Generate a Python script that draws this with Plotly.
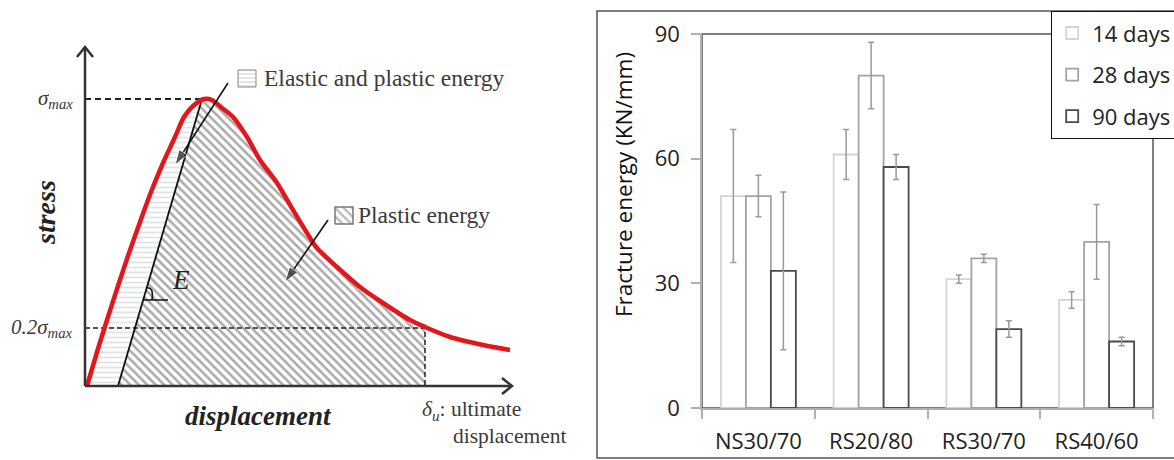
import plotly.graph_objects as go

# ---------------- Right panel data (bar chart) ----------------
categories = ["NS30/70", "RS20/80", "RS30/70", "RS40/60"]
series_names = ["14 days", "28 days", "90 days"]
vals_14 = [51, 61, 31, 26]
err_14 = [16, 6, 1, 2]
vals_28 = [51, 80, 36, 40]
err_28 = [5, 8, 1, 9]
vals_90 = [33, 58, 19, 16]
err_90 = [19, 3, 2, 1]
y_ticks = [0, 30, 60, 90]
y_title = "Fracture energy (KN/mm)"

# ---------------- Left panel (schematic stress-displacement) ----------------
# schematic units: displacement (x) and stress (y)
curve_disp = [2, 12, 22, 33, 44, 55, 66, 78, 90, 99, 108, 119, 127, 137, 148, 162, 175,
              192, 208, 222, 232, 252, 275, 298, 325, 340, 365, 398, 425]
curve_stress = [0, 34, 66, 100, 133, 164, 194, 223, 249, 269, 280, 287, 286, 278, 269, 249, 226,
                203, 176, 153, 138, 119, 99, 83, 66, 59, 49, 41, 36]
peak_index = 11
sigma_max = 287
sigma_02 = 58
elastic_disp = [33, 117]
elastic_stress = [0, 287]
ultimate_disp = 340
axis_x_end = 427
axis_y_end = 339
pointer1_disp, pointer1_stress = [143, 90], [303, 221]   # tail -> head
pointer2_disp, pointer2_stress = [243, 200], [166, 104]
icon1_x = [153, 171, 171, 153, 153]
icon1_y = [299, 299, 316, 316, 299]
icon2_x = [250, 268, 268, 250, 250]
icon2_y = [162, 162, 179, 179, 162]

fig = go.Figure()

# ---------- schematic ----------
rise_x = curve_disp[:peak_index + 1]
rise_y = curve_stress[:peak_index + 1]

# plastic region (hatched)
k_ult = curve_disp.index(ultimate_disp)
px = [elastic_disp[0], elastic_disp[1]] + curve_disp[peak_index:k_ult + 1] + [ultimate_disp, elastic_disp[0]]
py = [elastic_stress[0], elastic_stress[1]] + curve_stress[peak_index:k_ult + 1] + [0, 0]
fig.add_trace(go.Scatter(x=px, y=py, xaxis="x2", yaxis="y2", mode="lines", fill="toself",
                         line=dict(width=0), fillcolor="white",
                         fillpattern=dict(shape="\\", fgcolor="#555555", bgcolor="white",
                                          size=6, solidity=0.42),
                         hoverinfo="skip", showlegend=False))
# elastic region (light pattern)
ex = rise_x + [elastic_disp[1], elastic_disp[0], rise_x[0]]
ey = rise_y + [elastic_stress[1], elastic_stress[0], rise_y[0]]
fig.add_trace(go.Scatter(x=ex, y=ey, xaxis="x2", yaxis="y2", mode="lines", fill="toself",
                         line=dict(width=0), fillcolor="white",
                         fillpattern=dict(shape="-", fgcolor="#c2c6d2", bgcolor="white",
                                          size=5, solidity=0.35),
                         hoverinfo="skip", showlegend=False))

# dashed guide lines
fig.add_trace(go.Scatter(x=[0, curve_disp[peak_index]], y=[sigma_max, sigma_max], xaxis="x2", yaxis="y2",
                         mode="lines", line=dict(color="#222", width=2, dash="6px,4px"),
                         hoverinfo="skip", showlegend=False))
fig.add_trace(go.Scatter(x=[0, ultimate_disp, ultimate_disp], y=[sigma_02, sigma_02, 0], xaxis="x2", yaxis="y2",
                         mode="lines", line=dict(color="#222", width=1.5, dash="5px,3px"),
                         hoverinfo="skip", showlegend=False))
# elastic line
fig.add_trace(go.Scatter(x=elastic_disp, y=elastic_stress, xaxis="x2", yaxis="y2",
                         mode="lines", line=dict(color="#111", width=1.8),
                         hoverinfo="skip", showlegend=False))
# red curve
fig.add_trace(go.Scatter(x=curve_disp, y=curve_stress, xaxis="x2", yaxis="y2",
                         mode="lines", line=dict(color="#e3161b", width=4.5, shape="spline", smoothing=0.8),
                         hoverinfo="skip", showlegend=False))

# label icons
fig.add_trace(go.Scatter(x=icon1_x, y=icon1_y, xaxis="x2", yaxis="y2", mode="lines", fill="toself",
                         line=dict(color="#888", width=1), fillcolor="white",
                         fillpattern=dict(shape="-", fgcolor="#aaaaaa", bgcolor="white", size=4, solidity=0.3),
                         hoverinfo="skip", showlegend=False))
fig.add_trace(go.Scatter(x=icon2_x, y=icon2_y, xaxis="x2", yaxis="y2", mode="lines", fill="toself",
                         line=dict(color="#777", width=1.5), fillcolor="white",
                         fillpattern=dict(shape="\\", fgcolor="#777", bgcolor="white", size=6, solidity=0.4),
                         hoverinfo="skip", showlegend=False))

# axes with open arrow heads
hw, hl = 8, 10
ax_x = [0, 0, None, -hw, 0, hw, None, 0, axis_x_end, None, axis_x_end - hl, axis_x_end, axis_x_end - hl]
ax_y = [0, axis_y_end, None, axis_y_end - hl, axis_y_end, axis_y_end - hl, None, 0, 0, None, hw, 0, -hw]
fig.add_trace(go.Scatter(x=ax_x, y=ax_y, xaxis="x2", yaxis="y2", mode="lines",
                         line=dict(color="#333", width=2.5), hoverinfo="skip", showlegend=False))
# pointer arrows
for pdx, pdy in [(pointer1_disp, pointer1_stress), (pointer2_disp, pointer2_stress)]:
    fig.add_trace(go.Scatter(x=pdx, y=pdy, xaxis="x2", yaxis="y2", mode="lines+markers",
                             line=dict(color="#111", width=1.6),
                             marker=dict(symbol="arrow", size=[0, 16], color="#111", angleref="previous"),
                             hoverinfo="skip", showlegend=False))

# angle mark for E
fig.add_shape(type="line", xref="x2", yref="y2", x0=58, y0=86, x1=83, y1=86, line=dict(color="#111", width=1.5))
fig.add_shape(type="path", xref="x2", yref="y2", path="M 67,86 Q 69,100 61,98", line=dict(color="#111", width=1.6))

serif = "Liberation Serif"
txt_col = "#3a3a3a"
fig.add_annotation(x=177, y=308, xref="x2", yref="y2", text="Elastic and plastic energy", showarrow=False,
                   xanchor="left", font=dict(family=serif, size=23.5, color=txt_col))
fig.add_annotation(x=271, y=171, xref="x2", yref="y2", text="Plastic energy", showarrow=False,
                   xanchor="left", font=dict(family=serif, size=23.5, color=txt_col))
fig.add_annotation(x=-10, y=sigma_max, xref="x2", yref="y2", text="<i>σ<sub>max</sub></i>", showarrow=False,
                   xanchor="right", font=dict(family=serif, size=21, color=txt_col))
fig.add_annotation(x=-10, y=sigma_02, xref="x2", yref="y2", text="<i>0.2σ<sub>max</sub></i>", showarrow=False,
                   xanchor="right", font=dict(family=serif, size=21, color=txt_col))
fig.add_annotation(x=96, y=106, xref="x2", yref="y2", text="<i>E</i>", showarrow=False,
                   font=dict(family=serif, size=27, color="#222"))
fig.add_annotation(x=-40, y=173, xref="x2", yref="y2", text="<b><i>stress</i></b>", showarrow=False,
                   textangle=-90, font=dict(family=serif, size=28, color="#222"))
fig.add_annotation(x=173, y=-30, xref="x2", yref="y2", text="<b><i>displacement</i></b>", showarrow=False,
                   font=dict(family=serif, size=27, color="#222"))
fig.add_annotation(x=335, y=-24, xref="x2", yref="y2", text="<i>δ<sub>u</sub></i>: ultimate", showarrow=False,
                   xanchor="left", font=dict(family=serif, size=21.5, color=txt_col))
fig.add_annotation(x=366, y=-50, xref="x2", yref="y2", text="displacement", showarrow=False,
                   xanchor="left", font=dict(family=serif, size=21.5, color=txt_col))

# ---------- bar chart ----------
bar_specs = [
    (series_names[0], vals_14, err_14, "#d4d4d4"),
    (series_names[1], vals_28, err_28, "#a3a3a3"),
    (series_names[2], vals_90, err_90, "#4a4a4a"),
]
for name, vals, errs, lc in bar_specs:
    fig.add_trace(go.Bar(x=categories, y=vals, name=name, legendgroup=name,
                         marker=dict(color="white", line=dict(color=lc, width=1.8)),
                         error_y=dict(type="data", array=errs, color="#9a9a9a", thickness=1.5, width=3),
                         xaxis="x", yaxis="y"))

sans = "Open Sans"
fs = 22
x0p, x1p = 702 / 1174, 1153 / 1174
y0p, y1p = (460 - 408) / 460, (460 - 34) / 460
fig.update_layout(
    width=1174, height=460,
    margin=dict(l=0, r=0, t=0, b=0, autoexpand=False),
    paper_bgcolor="white", plot_bgcolor="white",
    barmode="group", bargap=0.335, bargroupgap=0,
    font=dict(family=sans, size=fs, color="#222"),
    xaxis=dict(domain=[x0p, x1p], anchor="y", type="category", tickson="boundaries",
               ticks="outside", ticklen=9, tickcolor="#b0b0b0", tickwidth=1.5,
               showline=True, linecolor="#b0b0b0", linewidth=1.5, showgrid=False,
               ticklabelstandoff=13,
               tickfont=dict(family=sans, size=fs, color="#222")),
    yaxis=dict(domain=[y0p, y1p], anchor="x", range=[0, 90], tickvals=y_ticks,
               ticks="outside", ticklen=9, tickcolor="#b0b0b0", tickwidth=1.5,
               showline=True, linecolor="#b0b0b0", linewidth=1.5, showgrid=False, zeroline=False,
               tickfont=dict(family=sans, size=fs, color="#222"), ticklabelstandoff=7),
    xaxis2=dict(domain=[0, 590 / 1174], anchor="y2", range=[-85, 505], visible=False),
    yaxis2=dict(domain=[0, 1], anchor="x2", range=[-74, 386], visible=False),
    legend=dict(x=1051 / 1174, y=1 - 11 / 460, xanchor="left", yanchor="top",
                bordercolor="#111", borderwidth=1.2, bgcolor="white",
                traceorder="grouped", tracegroupgap=10,
                font=dict(family=sans, size=fs, color="#222")),
    showlegend=True,
)

# y-axis title
fig.add_annotation(x=623 / 1174, y=1 - 185 / 460, xref="paper", yref="paper", text=y_title,
                   showarrow=False, textangle=-90, font=dict(family=sans, size=22.5, color="#111"))

# plot-area border (top/right) and outer chart border
fig.add_shape(type="rect", xref="paper", yref="paper", x0=x0p, x1=x1p, y0=y0p, y1=y1p,
              line=dict(color="#555", width=1.5), layer="below")
fig.add_shape(type="path", xref="paper", yref="paper",
              path=f"M 1.01,{1 - 11 / 460} L {597 / 1174},{1 - 11 / 460} L {597 / 1174},{1 - 458 / 460} L 1.01,{1 - 458 / 460}",
              line=dict(color="#555", width=1.5))

fig.write_html("out.html")
